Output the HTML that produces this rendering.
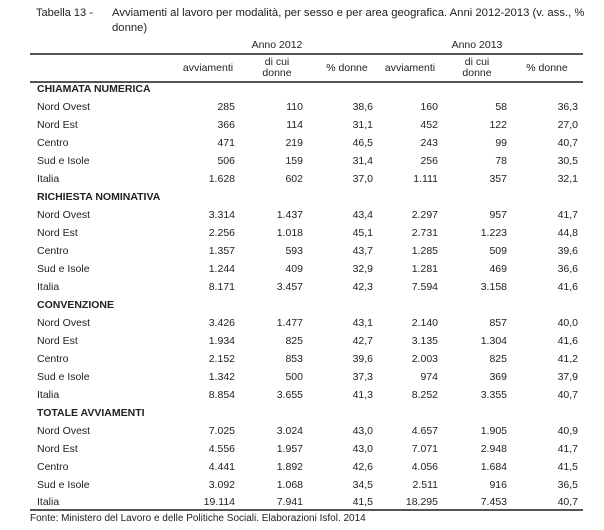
<!DOCTYPE html>
<html><head><meta charset="utf-8"><style>
html,body{margin:0;padding:0;background:#fff;}
body{width:604px;height:530px;position:relative;overflow:hidden;font-family:"Liberation Sans",sans-serif;color:#222;font-size:10.5px;}
.t{position:absolute;white-space:nowrap;line-height:12px;}
.r{position:absolute;white-space:nowrap;line-height:12px;text-align:right;}
.c{position:absolute;white-space:nowrap;line-height:11px;text-align:center;}
.b{font-weight:bold;}
.ln{position:absolute;left:30px;width:553px;height:1.5px;background:#555;}
</style></head><body>
<div class="t" style="left:36px;top:7px;font-size:11px">Tabella 13 -</div>
<div class="t" style="left:112px;top:7px;font-size:11.3px">Avviamenti al lavoro per modalità, per sesso e per area geografica. Anni 2012-2013 (v. ass., %</div>
<div class="t" style="left:112px;top:22px;font-size:11.3px">donne)</div>
<div class="c" style="left:237px;width:80px;top:40px">Anno 2012</div>
<div class="c" style="left:437px;width:80px;top:40px">Anno 2013</div>
<div class="ln" style="top:53px"></div>
<div class="c" style="left:178px;width:60px;top:63px">avviamenti</div>
<div class="c" style="left:247px;width:60px;top:57px">di cui<br>donne</div>
<div class="c" style="left:317px;width:60px;top:63px">% donne</div>
<div class="c" style="left:380px;width:60px;top:63px">avviamenti</div>
<div class="c" style="left:447px;width:60px;top:57px">di cui<br>donne</div>
<div class="c" style="left:517px;width:60px;top:63px">% donne</div>
<div class="ln" style="top:81px"></div>

<div class="t b" style="left:37px;top:83px">CHIAMATA NUMERICA</div>
<div class="t" style="left:37px;top:101px">Nord Ovest</div><div class="r" style="right:369px;top:101px">285</div><div class="r" style="right:301px;top:101px">110</div><div class="r" style="right:231px;top:101px">38,6</div><div class="r" style="right:166px;top:101px">160</div><div class="r" style="right:97px;top:101px">58</div><div class="r" style="right:26px;top:101px">36,3</div>
<div class="t" style="left:37px;top:119px">Nord Est</div><div class="r" style="right:369px;top:119px">366</div><div class="r" style="right:301px;top:119px">114</div><div class="r" style="right:231px;top:119px">31,1</div><div class="r" style="right:166px;top:119px">452</div><div class="r" style="right:97px;top:119px">122</div><div class="r" style="right:26px;top:119px">27,0</div>
<div class="t" style="left:37px;top:137px">Centro</div><div class="r" style="right:369px;top:137px">471</div><div class="r" style="right:301px;top:137px">219</div><div class="r" style="right:231px;top:137px">46,5</div><div class="r" style="right:166px;top:137px">243</div><div class="r" style="right:97px;top:137px">99</div><div class="r" style="right:26px;top:137px">40,7</div>
<div class="t" style="left:37px;top:155px">Sud e Isole</div><div class="r" style="right:369px;top:155px">506</div><div class="r" style="right:301px;top:155px">159</div><div class="r" style="right:231px;top:155px">31,4</div><div class="r" style="right:166px;top:155px">256</div><div class="r" style="right:97px;top:155px">78</div><div class="r" style="right:26px;top:155px">30,5</div>
<div class="t" style="left:37px;top:173px">Italia</div><div class="r" style="right:369px;top:173px">1.628</div><div class="r" style="right:301px;top:173px">602</div><div class="r" style="right:231px;top:173px">37,0</div><div class="r" style="right:166px;top:173px">1.111</div><div class="r" style="right:97px;top:173px">357</div><div class="r" style="right:26px;top:173px">32,1</div>

<div class="t b" style="left:37px;top:191px">RICHIESTA NOMINATIVA</div>
<div class="t" style="left:37px;top:209px">Nord Ovest</div><div class="r" style="right:369px;top:209px">3.314</div><div class="r" style="right:301px;top:209px">1.437</div><div class="r" style="right:231px;top:209px">43,4</div><div class="r" style="right:166px;top:209px">2.297</div><div class="r" style="right:97px;top:209px">957</div><div class="r" style="right:26px;top:209px">41,7</div>
<div class="t" style="left:37px;top:227px">Nord Est</div><div class="r" style="right:369px;top:227px">2.256</div><div class="r" style="right:301px;top:227px">1.018</div><div class="r" style="right:231px;top:227px">45,1</div><div class="r" style="right:166px;top:227px">2.731</div><div class="r" style="right:97px;top:227px">1.223</div><div class="r" style="right:26px;top:227px">44,8</div>
<div class="t" style="left:37px;top:245px">Centro</div><div class="r" style="right:369px;top:245px">1.357</div><div class="r" style="right:301px;top:245px">593</div><div class="r" style="right:231px;top:245px">43,7</div><div class="r" style="right:166px;top:245px">1.285</div><div class="r" style="right:97px;top:245px">509</div><div class="r" style="right:26px;top:245px">39,6</div>
<div class="t" style="left:37px;top:263px">Sud e Isole</div><div class="r" style="right:369px;top:263px">1.244</div><div class="r" style="right:301px;top:263px">409</div><div class="r" style="right:231px;top:263px">32,9</div><div class="r" style="right:166px;top:263px">1.281</div><div class="r" style="right:97px;top:263px">469</div><div class="r" style="right:26px;top:263px">36,6</div>
<div class="t" style="left:37px;top:281px">Italia</div><div class="r" style="right:369px;top:281px">8.171</div><div class="r" style="right:301px;top:281px">3.457</div><div class="r" style="right:231px;top:281px">42,3</div><div class="r" style="right:166px;top:281px">7.594</div><div class="r" style="right:97px;top:281px">3.158</div><div class="r" style="right:26px;top:281px">41,6</div>

<div class="t b" style="left:37px;top:299px">CONVENZIONE</div>
<div class="t" style="left:37px;top:317px">Nord Ovest</div><div class="r" style="right:369px;top:317px">3.426</div><div class="r" style="right:301px;top:317px">1.477</div><div class="r" style="right:231px;top:317px">43,1</div><div class="r" style="right:166px;top:317px">2.140</div><div class="r" style="right:97px;top:317px">857</div><div class="r" style="right:26px;top:317px">40,0</div>
<div class="t" style="left:37px;top:335px">Nord Est</div><div class="r" style="right:369px;top:335px">1.934</div><div class="r" style="right:301px;top:335px">825</div><div class="r" style="right:231px;top:335px">42,7</div><div class="r" style="right:166px;top:335px">3.135</div><div class="r" style="right:97px;top:335px">1.304</div><div class="r" style="right:26px;top:335px">41,6</div>
<div class="t" style="left:37px;top:353px">Centro</div><div class="r" style="right:369px;top:353px">2.152</div><div class="r" style="right:301px;top:353px">853</div><div class="r" style="right:231px;top:353px">39,6</div><div class="r" style="right:166px;top:353px">2.003</div><div class="r" style="right:97px;top:353px">825</div><div class="r" style="right:26px;top:353px">41,2</div>
<div class="t" style="left:37px;top:371px">Sud e Isole</div><div class="r" style="right:369px;top:371px">1.342</div><div class="r" style="right:301px;top:371px">500</div><div class="r" style="right:231px;top:371px">37,3</div><div class="r" style="right:166px;top:371px">974</div><div class="r" style="right:97px;top:371px">369</div><div class="r" style="right:26px;top:371px">37,9</div>
<div class="t" style="left:37px;top:389px">Italia</div><div class="r" style="right:369px;top:389px">8.854</div><div class="r" style="right:301px;top:389px">3.655</div><div class="r" style="right:231px;top:389px">41,3</div><div class="r" style="right:166px;top:389px">8.252</div><div class="r" style="right:97px;top:389px">3.355</div><div class="r" style="right:26px;top:389px">40,7</div>

<div class="t b" style="left:37px;top:407px">TOTALE AVVIAMENTI</div>
<div class="t" style="left:37px;top:425px">Nord Ovest</div><div class="r" style="right:369px;top:425px">7.025</div><div class="r" style="right:301px;top:425px">3.024</div><div class="r" style="right:231px;top:425px">43,0</div><div class="r" style="right:166px;top:425px">4.657</div><div class="r" style="right:97px;top:425px">1.905</div><div class="r" style="right:26px;top:425px">40,9</div>
<div class="t" style="left:37px;top:443px">Nord Est</div><div class="r" style="right:369px;top:443px">4.556</div><div class="r" style="right:301px;top:443px">1.957</div><div class="r" style="right:231px;top:443px">43,0</div><div class="r" style="right:166px;top:443px">7.071</div><div class="r" style="right:97px;top:443px">2.948</div><div class="r" style="right:26px;top:443px">41,7</div>
<div class="t" style="left:37px;top:461px">Centro</div><div class="r" style="right:369px;top:461px">4.441</div><div class="r" style="right:301px;top:461px">1.892</div><div class="r" style="right:231px;top:461px">42,6</div><div class="r" style="right:166px;top:461px">4.056</div><div class="r" style="right:97px;top:461px">1.684</div><div class="r" style="right:26px;top:461px">41,5</div>
<div class="t" style="left:37px;top:479px">Sud e Isole</div><div class="r" style="right:369px;top:479px">3.092</div><div class="r" style="right:301px;top:479px">1.068</div><div class="r" style="right:231px;top:479px">34,5</div><div class="r" style="right:166px;top:479px">2.511</div><div class="r" style="right:97px;top:479px">916</div><div class="r" style="right:26px;top:479px">36,5</div>
<div class="t" style="left:37px;top:496px">Italia</div><div class="r" style="right:369px;top:496px">19.114</div><div class="r" style="right:301px;top:496px">7.941</div><div class="r" style="right:231px;top:496px">41,5</div><div class="r" style="right:166px;top:496px">18.295</div><div class="r" style="right:97px;top:496px">7.453</div><div class="r" style="right:26px;top:496px">40,7</div>
<div class="ln" style="top:509px"></div>
<div class="t" style="left:30px;top:513px;font-size:10px">Fonte: Ministero del Lavoro e delle Politiche Sociali. Elaborazioni Isfol. 2014</div>
</body></html>
